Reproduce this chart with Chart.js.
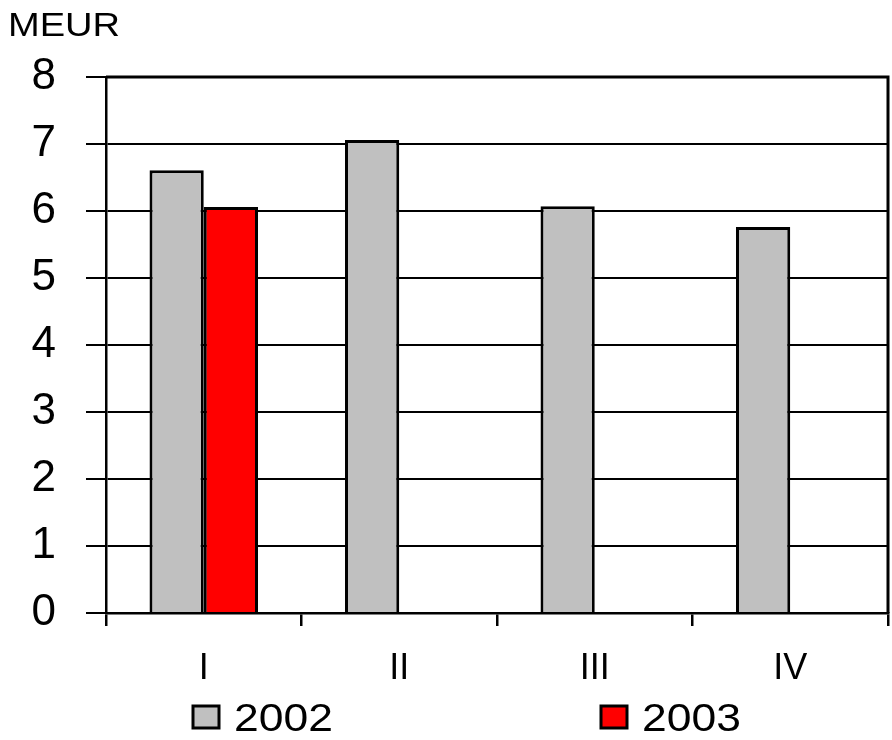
<!DOCTYPE html>
<html>
<head>
<meta charset="utf-8">
<style>
  html, body { margin: 0; padding: 0; background: #ffffff; }
  #wrap { width: 892px; height: 740px; position: relative; }
</style>
<script src="https://cdn.jsdelivr.net/npm/chart.js@4/dist/chart.umd.min.js"></script>
</head>
<body>
<div id="wrap"><canvas id="chart" width="892" height="740"></canvas></div>
<script>
// Quarterly values, MEUR
const quarters = ['I', 'II', 'III', 'IV'];
const series2002 = [6.61, 7.06, 6.07, 5.76];
const series2003 = [6.06, null, null, null];
const yTicks = [0, 1, 2, 3, 4, 5, 6, 7, 8];
const unitLabel = 'MEUR';

const FONT = "'Liberation Sans', Arial, Helvetica, sans-serif";

// Draws text slightly widened, like the rest of the chart lettering
function wideText(ctx, text, x, y, stretch) {
  ctx.save();
  ctx.translate(x, y);
  ctx.scale(stretch, 1);
  ctx.fillText(text, 0, 0);
  ctx.restore();
}

// Frame around the plot area, the unit label and the legend
const decorations = {
  id: 'decorations',
  afterDraw(chart, args, opts) {
    const { ctx, chartArea: a } = chart;
    ctx.save();
    ctx.strokeStyle = '#000';
    ctx.lineWidth = 3;
    ctx.beginPath();
    ctx.moveTo(a.left, a.top);
    ctx.lineTo(a.right, a.top);
    ctx.lineTo(a.right, a.bottom);
    ctx.stroke();

    ctx.fillStyle = '#000';
    ctx.font = '34px ' + FONT;
    ctx.textAlign = 'left';
    ctx.textBaseline = 'alphabetic';
    wideText(ctx, unitLabel, 8, 36, 1.12);

    ctx.font = '39px ' + FONT;
    chart.data.datasets.forEach((ds, i) => {
      const x = opts.itemX[i];
      const y = opts.boxTop;
      ctx.fillStyle = ds.backgroundColor;
      ctx.fillRect(x, y, 26, 22);
      ctx.lineWidth = 3;
      ctx.strokeStyle = '#000';
      ctx.strokeRect(x, y, 26, 22);
      ctx.fillStyle = '#000';
      wideText(ctx, ds.label, x + 41, opts.baseline, 1.14);
    });
    ctx.restore();
  }
};

new Chart(document.getElementById('chart'), {
  type: 'bar',
  data: {
    labels: quarters,
    datasets: [
      { label: '2002', data: series2002, backgroundColor: '#c0c0c0', borderColor: '#000', borderWidth: 3 },
      { label: '2003', data: series2003, backgroundColor: '#ff0000', borderColor: '#000', borderWidth: 3 }
    ]
  },
  plugins: [decorations],
  options: {
    responsive: false,
    animation: false,
    devicePixelRatio: 1,
    categoryPercentage: 0.555,
    barPercentage: 1,
    layout: { padding: { top: 77, right: 4, left: 0, bottom: 0 } },
    plugins: {
      legend: { display: false },
      title: { display: false },
      tooltip: { enabled: false },
      decorations: { itemX: [193, 601], boxTop: 706, baseline: 731 }
    },
    scales: {
      x: {
        afterFit(s) { s.height = 127; },
        grid: { offset: true, drawOnChartArea: false, drawTicks: true, tickLength: 13, color: '#000', lineWidth: 2.5 },
        border: { display: true, color: '#000', width: 2.5 },
        ticks: { color: '#000', font: { family: FONT, size: 36 }, padding: 21 }
      },
      y: {
        min: 0,
        max: 8,
        afterFit(s) { s.width = 106; },
        afterBuildTicks(s) { s.ticks = yTicks.map(v => ({ value: v })); },
        grid: { drawOnChartArea: true, drawTicks: true, tickLength: 20, color: '#000', lineWidth: 2 },
        border: { display: true, color: '#000', width: 2.5 },
        ticks: { color: '#000', font: { family: FONT, size: 44 }, padding: 30 }
      }
    }
  }
});
</script>
</body>
</html>
